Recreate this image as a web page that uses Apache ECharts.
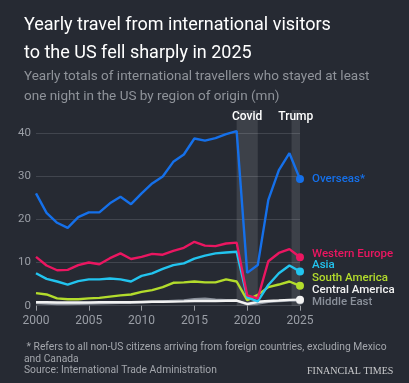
<!DOCTYPE html>
<html><head><meta charset="utf-8">
<script src="https://cdn.jsdelivr.net/npm/echarts@6/dist/echarts.min.js"></script>
<style>html,body{margin:0;padding:0;background:#262a33;}#c{width:409px;height:383px;}</style>
</head><body><div id="c"></div>
<script>
var years = [2000,2001,2002,2003,2004,2005,2006,2007,2008,2009,2010,2011,2012,2013,2014,2015,2016,2017,2018,2019,2020,2021,2022,2023,2024,2025];
var overseas = [26.0,21.5,19.2,18.0,20.5,21.6,21.6,23.7,25.2,23.5,26.0,28.3,29.9,33.3,35.0,38.7,38.2,38.8,39.7,40.4,7.6,9.4,24.5,31.4,35.3,29.3];
var westernEurope = [11.3,9.3,8.2,8.3,9.4,10.0,9.6,11.0,12.1,10.8,11.3,12.0,11.8,12.7,13.4,14.8,13.9,13.8,14.4,14.6,2.4,1.7,10.3,12.2,13.1,11.2];
var asia = [7.5,6.2,5.6,4.9,5.7,6.1,6.1,6.3,6.1,5.6,6.9,7.5,8.5,9.4,9.8,10.9,11.6,12.1,12.3,12.5,1.9,1.0,4.8,7.5,9.3,7.9];
var southAmerica = [2.9,2.6,1.7,1.5,1.5,1.7,1.8,2.1,2.4,2.6,3.2,3.6,4.3,5.3,5.4,5.6,5.4,5.4,6.1,5.6,1.3,2.5,4.3,4.9,5.6,4.6];
var centralAmerica = [0.8,0.8,0.75,0.75,0.75,0.75,0.8,0.8,0.8,0.8,0.85,0.9,0.9,0.95,1.0,1.1,1.1,1.1,1.15,1.2,0.4,0.9,1.1,1.2,1.35,1.4];
var middleEast = [0.6,0.5,0.4,0.4,0.45,0.5,0.55,0.6,0.65,0.7,0.8,0.9,1.0,1.1,1.2,1.5,1.6,1.4,1.3,1.2,0.3,0.5,0.9,1.1,1.2,1.2];
var xTicks = [2000,2005,2010,2015,2020,2025];
var yTicks = [0,10,20,30,40];
var bands = [{name:'Covid', from:2019, to:2021},{name:'Trump', from:2024.2, to:2025.3}];

var chart = echarts.init(document.getElementById('c'), null, {renderer:'canvas'});
var FONT = 'Roboto';
function pairs(arr){ return arr.map(function(v,i){ return [years[i], v]; }); }
function mk(name, arr, color, labelColor, dy, z){
  var n = arr.length;
  return {
    name: name, type:'line', data: pairs(arr), z: z,
    lineStyle:{color:color, width:2.4}, itemStyle:{color:color},
    symbol:'circle', showSymbol:true, showAllSymbol:true,
    symbolSize: function(v, p){ return p.dataIndex === n-1 ? 8 : 0; },
    silent:true, animation:false,
    endLabel:{show:true, formatter:name, color:labelColor, fontFamily:FONT, fontSize:11.5, fontWeight:500, offset:[4, dy]}
  };
}
var series = [
  {type:'line', data:[], z:1, silent:true, animation:false, clip:false,
   markArea:{silent:true, itemStyle:{color:'rgba(255,255,255,0.11)'},
     label:{show:true, position:'insideTop', distance:1, color:'#ffffff', fontFamily:FONT, fontSize:12, fontWeight:500},
     data: bands.map(function(b){ return [{name:b.name, xAxis:b.from}, {xAxis:b.to}]; })}},
  mk('Middle East', middleEast, '#8a909a', '#8a909a', 2, 2),
  mk('Central America', centralAmerica, '#f2f2f2', '#f2f2f2', -10, 3),
  mk('South America', southAmerica, '#b3dc2c', '#b3dc2c', -8, 4),
  mk('Asia', asia, '#22c4ef', '#22c4ef', -6, 5),
  mk('Western Europe', westernEurope, '#eb1661', '#eb1661', -3, 6),
  mk('Overseas*', overseas, '#1570ea', '#1570ea', 0, 7)
];
chart.setOption({
  backgroundColor:'#262a33',
  animation:false,
  title:[
    {text:'Yearly travel from international visitors\nto the US fell sharply in 2025', left:19, top:6,
     textStyle:{color:'#ffffff', fontFamily:FONT, fontSize:18, fontWeight:400, lineHeight:28}},
    {text:'Yearly totals of international travellers who stayed at least\none night in the US by region of origin (mn)', left:19, top:62,
     textStyle:{color:'#8f939a', fontFamily:FONT, fontSize:13.5, fontWeight:400, lineHeight:20}},
    {text:' * Refers to all non-US citizens arriving from foreign countries, excluding Mexico\nand Canada\nSource: International Trade Administration', left:19, top:337,
     textStyle:{color:'#a3a6ac', fontFamily:FONT, fontSize:10.3, fontWeight:400, lineHeight:11.5}},
    {text:'FINANCIAL TIMES', left:302, top:361,
     textStyle:{color:'#c9cacc', fontFamily:'Liberation Serif', fontSize:10, fontWeight:400}}
  ],
  grid:{left:36, right:109, top:110, bottom:77.3, containLabel:false},
  xAxis:{type:'value', min:2000, max:2025, interval:5,
    axisLine:{show:false},
    axisTick:{show:true, length:5, lineStyle:{color:'#9a9da3', width:1}},
    axisLabel:{color:'#9a9ea6', fontFamily:FONT, fontSize:12, margin:9,
      formatter:function(v){ return xTicks.indexOf(v) >= 0 ? String(v) : ''; }},
    splitLine:{show:false}},
  yAxis:{type:'value', min:0, max:45.3, interval:10,
    axisLine:{show:false}, axisTick:{show:false},
    axisLabel:{color:'#9a9ea6', fontFamily:FONT, fontSize:11.5, margin:5,
      formatter:function(v){ return yTicks.indexOf(v) >= 0 ? String(v) : ''; }},
    splitLine:{show:true, showMaxLine:false, lineStyle:{color:'#41454e', width:1}}},
  series: series
});
</script></body></html>
